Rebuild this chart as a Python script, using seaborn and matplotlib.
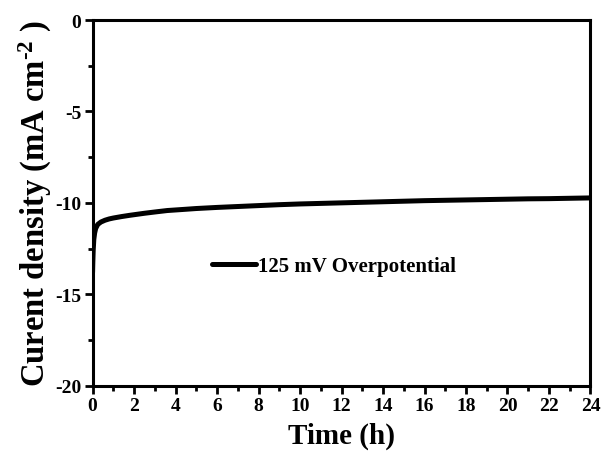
import numpy as np
import pandas as pd
import matplotlib
matplotlib.use("Agg")
import matplotlib.pyplot as plt
from matplotlib.ticker import MultipleLocator
import seaborn as sns

# Data
time_h = [0.0, 0.01, 0.03, 0.06, 0.1, 0.15, 0.25, 0.4, 0.6, 0.8, 1.0, 1.4, 1.8, 2.5,
          3.0, 3.6, 4.5, 5.0, 6.0, 7.0, 8.0, 9.0, 10.0, 11.0, 12.0, 13.0, 14.0, 15.0,
          16.0, 17.0, 18.0, 19.0, 20.0, 21.0, 22.0, 23.0, 24.0]
current = [-13.8, -13.3, -12.6, -12.0, -11.65, -11.4, -11.18, -11.05, -10.95, -10.88,
           -10.83, -10.75, -10.68, -10.57, -10.5, -10.42, -10.35, -10.31, -10.25, -10.2,
           -10.15, -10.1, -10.06, -10.03, -10.0, -9.97, -9.94, -9.91, -9.88, -9.86,
           -9.84, -9.82, -9.8, -9.78, -9.77, -9.75, -9.73]
series_label = "125 mV Overpotential"
x_ticks = list(range(0, 25, 2))
y_ticks = [0, -5, -10, -15, -20]

sns.set_theme(style="ticks")
plt.rcParams['font.family'] = ['Liberation Serif', 'DejaVu Serif']
plt.rcParams['font.weight'] = 'bold'
plt.rcParams['axes.unicode_minus'] = False
plt.rcParams['text.color'] = 'black'
plt.rcParams['axes.labelcolor'] = 'black'
plt.rcParams['xtick.color'] = 'black'
plt.rcParams['ytick.color'] = 'black'
plt.rcParams['mathtext.fontset'] = 'custom'
plt.rcParams['mathtext.rm'] = 'Liberation Serif:bold'
plt.rcParams['mathtext.bf'] = 'Liberation Serif:bold'
plt.rcParams['mathtext.default'] = 'bf'

df = pd.DataFrame({"Time": time_h, "Current": current, "Series": series_label})

fig = plt.figure(figsize=(6.05, 4.52), dpi=100)
ax = fig.add_axes([0.153, 0.1445, 0.823, 0.809])

sns.lineplot(data=df, x="Time", y="Current", hue="Series", palette=["black"],
             linewidth=3.6, ax=ax, legend=True)

ax.set_xlim(0, 24)
ax.set_ylim(-20, 0)
ax.set_xticks(x_ticks)
ax.set_yticks(y_ticks)
ax.xaxis.set_minor_locator(MultipleLocator(1))
ax.yaxis.set_minor_locator(MultipleLocator(2.5))

for side in ax.spines.values():
    side.set_linewidth(2.2)
    side.set_color("black")
ax.tick_params(which="major", direction="out", length=6, width=2, colors="black",
               labelcolor="black", labelsize=14, pad=2)
ax.tick_params(which="minor", direction="out", length=3.5, width=2, colors="black")
for lab in ax.get_xticklabels() + ax.get_yticklabels():
    lab.set_fontweight("bold")

ax.set_xlabel("Time (h)", fontsize=21, fontweight="bold", labelpad=6, color="black")
ax.set_ylabel(r"Curent density (mA cm$^{\text{-2}}$ )", fontsize=23.5, fontweight="bold",
              labelpad=1, color="black")

leg = ax.legend(loc="center left", bbox_to_anchor=(0.24, 0.327), frameon=False,
                borderpad=0, borderaxespad=0, handlelength=2.1, handletextpad=0.1,
                prop={"family": "Liberation Serif", "weight": "bold", "size": 15})
for h in leg.get_lines():
    h.set_linewidth(3.6)
for t in leg.get_texts():
    t.set_color("black")

fig.savefig("out.png", dpi=100)
